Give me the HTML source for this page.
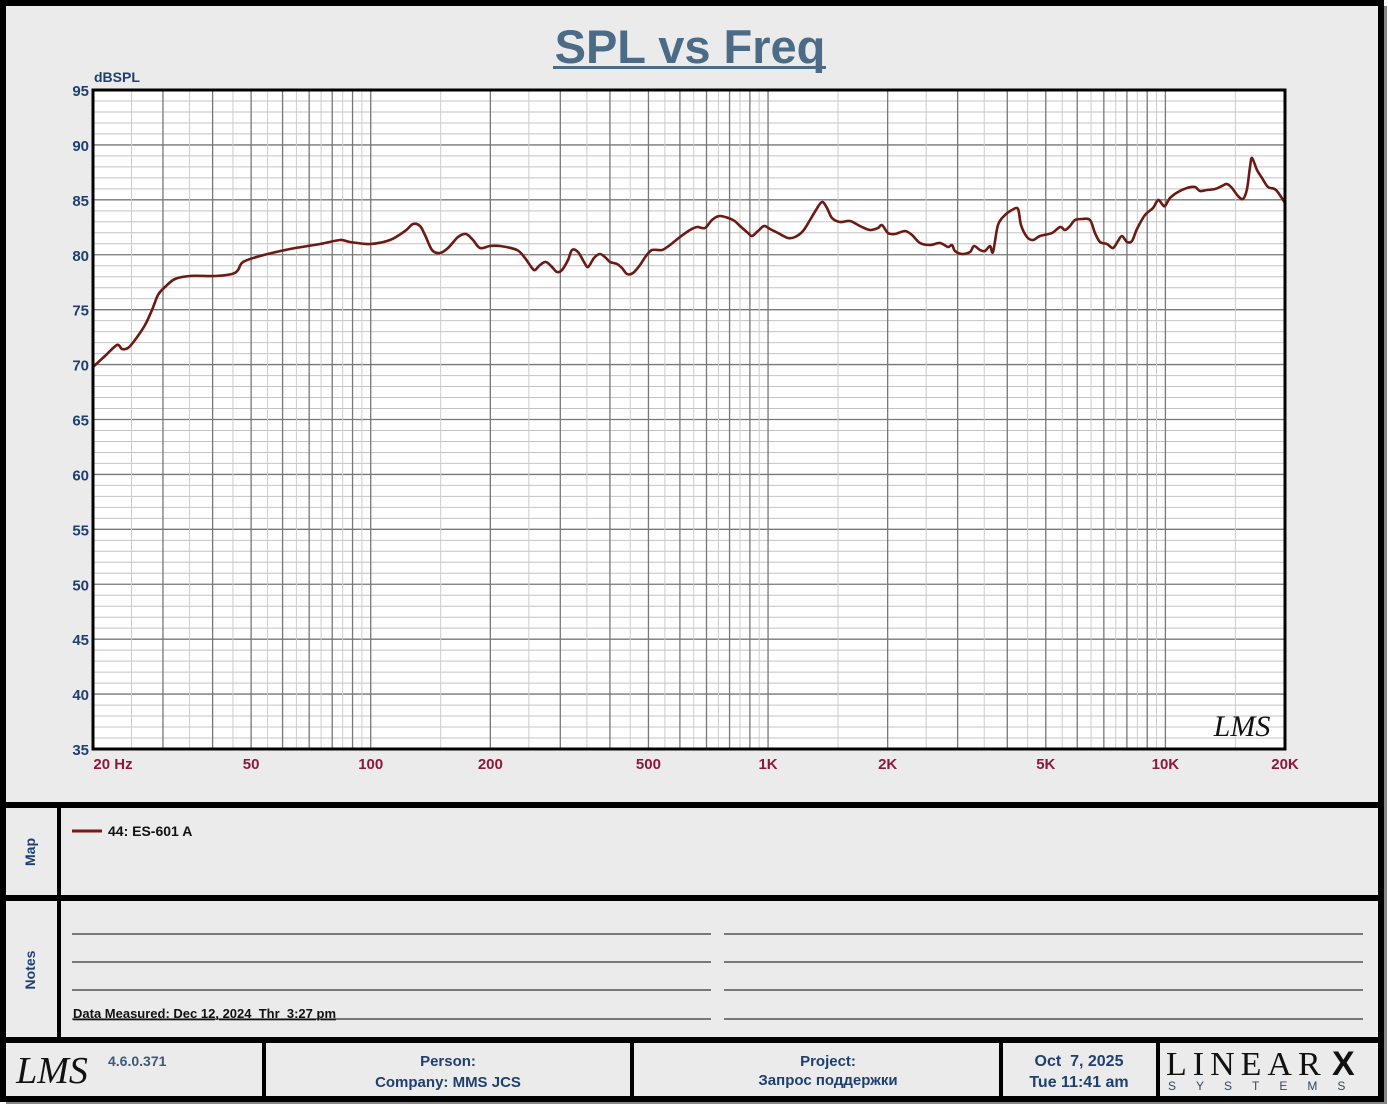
<!DOCTYPE html>
<html><head><meta charset="utf-8"><style>
body{margin:0;background:#fff;width:1388px;height:1106px;overflow:hidden;font-family:"Liberation Sans",sans-serif}
</style></head><body>
<svg id="s" width="1388" height="1106" xmlns="http://www.w3.org/2000/svg" font-family="Liberation Sans, sans-serif">
<rect x="0" y="0" width="1388" height="1106" fill="#fff"/>
<rect x="6" y="6" width="1381" height="1098" fill="#888"/>
<rect x="3" y="3" width="1378" height="1096" fill="#ebebeb" stroke="#000" stroke-width="6"/>
<rect x="3" y="802" width="1378" height="6" fill="#000"/>
<rect x="3" y="895" width="1378" height="6" fill="#000"/>
<rect x="3" y="1037" width="1378" height="6" fill="#000"/>
<rect x="57" y="808" width="4" height="229" fill="#000"/>
<rect x="262" y="1043" width="4" height="54" fill="#000"/>
<rect x="630" y="1043" width="4" height="54" fill="#000"/>
<rect x="999" y="1043" width="4" height="54" fill="#000"/>
<rect x="1156" y="1043" width="4" height="54" fill="#000"/>
<text x="690" y="63" text-anchor="middle" font-size="47" font-weight="bold" fill="#4b6b87">SPL vs Freq</text>
<rect x="553" y="66" width="273" height="3" fill="#4b6b87"/>
<text x="94" y="82" font-size="14" font-weight="bold" fill="#1f3f6f">dBSPL</text>
<rect x="93" y="90" width="1192" height="659" fill="#fff"/>
<g id="grid"></g>
<g id="yl" font-size="15" font-weight="bold" fill="#1f3f6f" text-anchor="end"></g>
<g id="xl" font-size="15" font-weight="bold" fill="#8b1a3a" text-anchor="middle"></g>
<path id="curve" fill="none" stroke="#6b1a14" stroke-width="2.6" stroke-linejoin="round" stroke-linecap="round"/>
<rect x="93" y="90" width="1192" height="659" fill="none" stroke="#000" stroke-width="3"/>
<text x="1242" y="736" text-anchor="middle" font-size="30" font-style="italic" font-family="Liberation Serif, serif" fill="#111">LMS</text>
<line x1="72" y1="831" x2="102" y2="831" stroke="#7a1a14" stroke-width="3"/>
<text x="108" y="836" font-size="14" font-weight="bold" fill="#111">44: ES-601 A</text>
<text transform="translate(35,852) rotate(-90)" text-anchor="middle" font-size="14" font-weight="bold" fill="#1f3f6f">Map</text>
<text transform="translate(35,970) rotate(-90)" text-anchor="middle" font-size="14" font-weight="bold" fill="#1f3f6f">Notes</text>
<g stroke="#333" stroke-width="1.3">
<line x1="72" y1="934" x2="711" y2="934"/><line x1="724" y1="934" x2="1363" y2="934"/>
<line x1="72" y1="962" x2="711" y2="962"/><line x1="724" y1="962" x2="1363" y2="962"/>
<line x1="72" y1="990" x2="711" y2="990"/><line x1="724" y1="990" x2="1363" y2="990"/>
<line x1="72" y1="1019" x2="711" y2="1019"/><line x1="724" y1="1019" x2="1363" y2="1019"/>
</g>
<text x="73" y="1018" font-size="13" font-weight="bold" fill="#111" text-decoration="underline" xml:space="preserve">Data Measured: Dec 12, 2024  Thr  3:27 pm</text>
<text x="52" y="1083" text-anchor="middle" font-size="38" font-style="italic" font-family="Liberation Serif, serif" fill="#111">LMS</text>
<text x="108" y="1066" font-size="14" font-weight="bold" fill="#3a5a7a">4.6.0.371</text>
<text x="448" y="1066" text-anchor="middle" font-size="15" font-weight="bold" fill="#1f3f6f">Person:</text>
<text x="448" y="1087" text-anchor="middle" font-size="15" font-weight="bold" fill="#1f3f6f">Company: MMS JCS</text>
<text x="828" y="1066" text-anchor="middle" font-size="15" font-weight="bold" fill="#1f3f6f">Project:</text>
<text x="828" y="1085" text-anchor="middle" font-size="15" font-weight="bold" fill="#1f3f6f" font-family="Liberation Sans, DejaVu Sans, sans-serif">Запрос поддержки</text>
<text x="1079" y="1066" text-anchor="middle" font-size="16" font-weight="bold" fill="#1f3f6f" xml:space="preserve">Oct  7, 2025</text>
<text x="1079" y="1087" text-anchor="middle" font-size="16" font-weight="bold" fill="#1f3f6f">Tue 11:41 am</text>
<text x="1166" y="1075" font-size="34" font-family="Liberation Serif, serif" fill="#111" letter-spacing="6">LINEAR</text>
<text x="1332" y="1075" font-size="34" font-weight="bold" fill="#111">X</text>
<text x="1168" y="1090" font-size="12" fill="#2a4a6a" letter-spacing="20">SYSTEMS</text>
</svg>
<script>
var ns="http://www.w3.org/2000/svg";
function el(p,t,a,txt){var e=document.createElementNS(ns,t);for(var k in a)e.setAttribute(k,a[k]);if(txt)e.textContent=txt;document.getElementById(p).appendChild(e);}
var X0=93,W=1192,Y0=90,H=659;
function fx(f){return X0+W*Math.log10(f/20)/3;}
for(var d=35;d<=95;d++){var y=Y0+H*(95-d)/60;el("grid","line",{x1:X0,x2:X0+W,y1:y,y2:y,stroke:d%5==0?"#777":"#c4c4c4","stroke-width":d%5==0?1.3:1});
 if(d%5==0)el("yl","text",{x:89,y:y+6},""+d);}
[10,100,1000,10000].forEach(function(dec){for(var n=1;n<10;n+=0.5){var f=n*dec;if(f<=20||f>=20000)continue;var x=fx(f);
 el("grid","line",{x1:x,x2:x,y1:Y0,y2:Y0+H,stroke:n%1==0?"#777":"#ccc","stroke-width":n%1==0?1.3:1});}});
[["20  Hz",113],["50",fx(50)],["100",fx(100)],["200",fx(200)],["500",fx(500)],["1K",fx(1000)],["2K",fx(2000)],["5K",fx(5000)],["10K",fx(10000)],["20K",1285]].forEach(function(a){el("xl","text",{x:a[1],y:769,"xml:space":"preserve"},a[0]);});
var p=[93,367,105,356,117,345,122,349,128,348,135,340,145,325,152,310,158,295,165,287,175,279,190,276,215,276,232,274,238,270,243,262,260,256,290,249,320,244,340,240,350,242,370,244,390,240,405,231,413,224,420,226,425,235,432,250,440,253,448,248,458,237,466,234,473,240,480,248,490,246,500,246,517,250,525,258,532,268,535,270,540,265,546,262,552,267,557,272,562,270,568,260,572,250,578,252,584,262,588,267,594,258,600,254,606,258,610,262,617,264,622,268,627,274,633,273,640,265,646,256,652,250,662,250,670,245,680,237,690,230,697,227,705,228,712,220,720,216,733,220,740,226,748,233,752,236,758,231,764,226,770,229,778,233,788,238,795,237,803,231,810,220,816,210,822,202,827,208,832,218,840,222,850,221,860,226,870,230,878,228,882,225,888,233,895,234,905,231,912,235,920,243,930,245,940,243,948,247,952,245,955,251,962,254,970,252,974,246,980,250,985,251,990,246,993,252,998,225,1005,215,1012,210,1018,209,1021,225,1027,237,1033,240,1040,236,1052,233,1060,227,1065,230,1070,226,1075,220,1082,219,1090,220,1095,233,1100,242,1107,244,1113,248,1118,241,1122,236,1127,242,1132,241,1137,229,1145,215,1153,208,1158,200,1162,204,1165,206,1170,198,1178,192,1187,188,1195,187,1200,191,1207,190,1215,189,1222,186,1227,184,1232,188,1238,196,1243,199,1247,189,1250,167,1252,158,1257,170,1262,178,1268,187,1276,190,1285,203];
var P=[];for(var i=0;i<p.length;i+=2)P.push([p[i],p[i+1]]);
var d="M"+P[0][0]+","+P[0][1];
for(var i=0;i<P.length-1;i++){var a=P[Math.max(0,i-1)],b=P[i],c=P[i+1],e=P[Math.min(P.length-1,i+2)];
 var t=0.16;d+=" C"+(b[0]+(c[0]-a[0])*t)+","+(b[1]+(c[1]-a[1])*t)+" "+(c[0]-(e[0]-b[0])*t)+","+(c[1]-(e[1]-b[1])*t)+" "+c[0]+","+c[1];}
document.getElementById("curve").setAttribute("d",d);
</script>
</body></html>
